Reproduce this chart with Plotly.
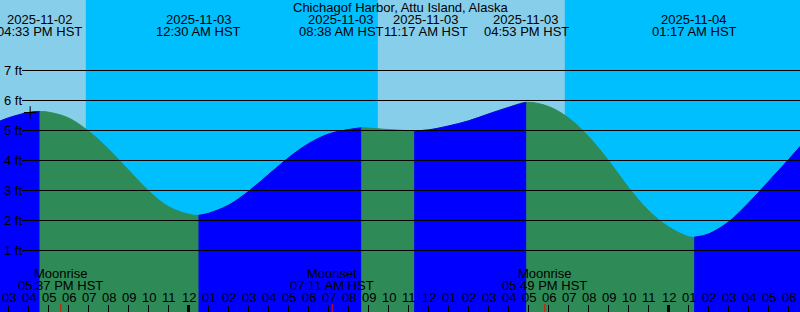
import plotly.graph_objects as go
from datetime import datetime

# ---------------- data ----------------
TITLE = "Chichagof Harbor, Attu Island, Alaska"
TZ = "HST"

# tide heights (ft) sampled along the curve
curve_times = [
    "2025-11-02 14:34", "2025-11-02 15:00", "2025-11-02 16:00", "2025-11-02 17:00",
    "2025-11-02 18:00", "2025-11-02 19:00", "2025-11-02 20:00", "2025-11-02 21:00",
    "2025-11-02 22:00", "2025-11-02 23:00", "2025-11-03 00:00", "2025-11-03 01:00",
    "2025-11-03 02:00", "2025-11-03 03:00", "2025-11-03 04:00", "2025-11-03 05:00",
    "2025-11-03 06:00", "2025-11-03 07:00", "2025-11-03 08:00", "2025-11-03 09:00",
    "2025-11-03 10:00", "2025-11-03 11:00", "2025-11-03 12:00", "2025-11-03 13:00",
    "2025-11-03 14:00", "2025-11-03 15:00", "2025-11-03 16:00", "2025-11-03 18:00",
    "2025-11-03 19:00", "2025-11-03 20:00", "2025-11-03 21:00", "2025-11-03 22:00",
    "2025-11-03 23:00", "2025-11-04 00:00", "2025-11-04 01:00", "2025-11-04 02:00",
    "2025-11-04 03:00", "2025-11-04 04:00", "2025-11-04 05:00", "2025-11-04 06:00",
    "2025-11-04 06:36",
]
curve_heights = [
    5.31, 5.42, 5.60, 5.61,
    5.42, 4.98, 4.38, 3.68,
    2.99, 2.46, 2.21, 2.24,
    2.51, 2.97, 3.53, 4.09,
    4.56, 4.88, 5.03, 5.08,
    5.03, 4.995, 5.02, 5.15,
    5.32, 5.55, 5.77, 5.80,
    5.42, 4.80, 4.00, 3.10,
    2.33, 1.79, 1.46, 1.55,
    1.95, 2.58, 3.30, 4.03,
    4.48,
]

# high / low tides
extreme_times = ["2025-11-02 16:33", "2025-11-03 00:30", "2025-11-03 08:38",
                 "2025-11-03 11:17", "2025-11-03 16:53", "2025-11-04 01:17"]
extreme_heights = [5.63, 2.17, 5.09, 4.99, 5.94, 1.44]

# sun
sunset_times = ["2025-11-02 18:52", "2025-11-03 18:49"]
sunrise_times = ["2025-11-03 09:28"]

# moon
moon_labels = ["Moonrise", "Moonset", "Moonrise"]
moon_times = ["2025-11-02 17:37", "2025-11-03 07:11", "2025-11-03 17:49"]

# current-time mark
mark_time = "2025-11-02 16:05"
mark_height = 5.60

height_ticks = [1, 2, 3, 4, 5, 6, 7]

# ---------------- helpers ----------------
BASE = datetime(2025, 11, 2, 0, 0)
FMT = "%Y-%m-%d %H:%M"


def hrs(s):
    return (datetime.strptime(s, FMT) - BASE).total_seconds() / 3600.0


W, H = 800, 312
X0 = 15 - 8.5 / 20.0          # 20 px per hour
X1 = X0 + W / 20.0
Y0 = -31.5 / 30.0             # 30 px per foot
Y1 = Y0 + H / 30.0

DAY = "#87CEEB"
NIGHT = "#00BFFF"
EBB = "#2E8B57"
FLOOD = "#0000FF"
FONT = dict(family="Liberation Sans, Arial, sans-serif", size=13, color="black")

# label nudges (pixels) where neighbouring tide labels would collide
label_shift = {2: -20, 3: 12}


def py(p):  # pixel row -> paper y
    return 1 - p / H


ct = [hrs(s) for s in curve_times]
et = [hrs(s) for s in extreme_times]

# merge curve samples with extremes
pts = sorted(list(zip(ct, curve_heights)) + list(zip(et, extreme_heights)))
xs = [p[0] for p in pts]
ys = [p[1] for p in pts]
BASEY = Y0 - 2

fig = go.Figure()

# whole water area in ebb colour
fig.add_trace(go.Scatter(x=[xs[0], xs[-1]], y=[BASEY, BASEY], mode="lines",
                         line=dict(width=0), hoverinfo="skip", showlegend=False))
fig.add_trace(go.Scatter(x=xs, y=ys, mode="lines", fill="tonexty", fillcolor=EBB,
                         line=dict(width=1, color=EBB, shape="spline", smoothing=1.0),
                         hoverinfo="skip", showlegend=False))

# flood segments on top
bounds = [xs[0]] + et + [xs[-1]]
bh = [ys[0]] + extreme_heights + [ys[-1]]
for i in range(len(bounds) - 1):
    a, b = bounds[i], bounds[i + 1]
    if bh[i + 1] <= bh[i]:
        continue
    sx = [x for x in xs if a - 1e-9 <= x <= b + 1e-9]
    sy = [y for x, y in zip(xs, ys) if a - 1e-9 <= x <= b + 1e-9]
    fig.add_trace(go.Scatter(x=[sx[0], sx[-1]], y=[BASEY, BASEY], mode="lines",
                             line=dict(width=0), hoverinfo="skip", showlegend=False))
    fig.add_trace(go.Scatter(x=sx, y=sy, mode="lines", fill="tonexty", fillcolor=FLOOD,
                             line=dict(width=1, color=FLOOD, shape="spline", smoothing=1.0),
                             hoverinfo="skip", showlegend=False))

# current-time mark
fig.add_trace(go.Scatter(x=[hrs(mark_time)], y=[mark_height], mode="markers",
                         marker=dict(symbol="cross-thin", size=9,
                                     line=dict(width=1, color="black")),
                         hoverinfo="skip", showlegend=False))

shapes = []
# daylight bands
rises = [X0 - 1] + [hrs(s) for s in sunrise_times]
sets = [hrs(s) for s in sunset_times]
for r, s in zip(rises, sets):
    shapes.append(dict(type="rect", xref="x", yref="paper", x0=r, x1=s, y0=0, y1=1,
                       fillcolor=DAY, line=dict(width=0), layer="below"))

# height lines
for h in height_ticks:
    shapes.append(dict(type="line", xref="paper", yref="y", x0=22 / W, x1=1, y0=h, y1=h,
                       line=dict(color="black", width=1)))

annotations = []
for h in height_ticks:
    annotations.append(dict(text=f"{h} ft", xref="paper", yref="y", x=2 / W, y=h,
                            xanchor="left", yanchor="middle", showarrow=False, font=FONT))

# hour ticks and labels
for hr in range(15, 55):
    thick = hr % 24 == 0
    shapes.append(dict(type="line", xref="x", yref="paper", x0=hr, x1=hr,
                       y0=0, y1=py(305), line=dict(color="black", width=3 if thick else 1)))
    annotations.append(dict(text=f"{(hr % 12) or 12:02d}", xref="x", yref="paper", x=hr,
                            y=py(297.5), xanchor="center", yanchor="middle",
                            showarrow=False, font=FONT))

# moon events
for lab, t in zip(moon_labels, moon_times):
    x = hrs(t)
    dt = datetime.strptime(t, FMT)
    shapes.append(dict(type="line", xref="x", yref="paper", x0=x, x1=x,
                       y0=0, y1=py(304), line=dict(color="red", width=1)))
    annotations.append(dict(text=lab, xref="x", yref="paper", x=x, y=py(273.5),
                            xanchor="center", yanchor="middle", showarrow=False, font=FONT))
    annotations.append(dict(text=dt.strftime("%I:%M %p") + " " + TZ, xref="x", yref="paper",
                            x=x, y=py(285.5), xanchor="center", yanchor="middle",
                            showarrow=False, font=FONT))

# tide extreme labels
for i, t in enumerate(extreme_times):
    x = hrs(t)
    dt = datetime.strptime(t, FMT)
    sh = label_shift.get(i, 0)
    annotations.append(dict(text=dt.strftime("%Y-%m-%d"), xref="x", yref="paper", x=x,
                            y=py(19.5), xanchor="center", yanchor="middle", xshift=sh,
                            showarrow=False, font=FONT))
    annotations.append(dict(text=dt.strftime("%I:%M %p") + " " + TZ, xref="x", yref="paper",
                            x=x, y=py(31.7), xanchor="center", yanchor="middle", xshift=sh,
                            showarrow=False, font=FONT))

annotations.append(dict(text=TITLE, xref="paper", yref="paper", x=0.5, y=py(7.5),
                        xanchor="center", yanchor="middle", showarrow=False, font=FONT))

fig.update_layout(
    width=W, height=H, margin=dict(l=0, r=0, t=0, b=0),
    paper_bgcolor=NIGHT, plot_bgcolor=NIGHT,
    xaxis=dict(range=[X0, X1], visible=False, fixedrange=True),
    yaxis=dict(range=[Y0, Y1], visible=False, fixedrange=True),
    shapes=shapes, annotations=annotations, showlegend=False,
)

fig.write_html("out.html")
